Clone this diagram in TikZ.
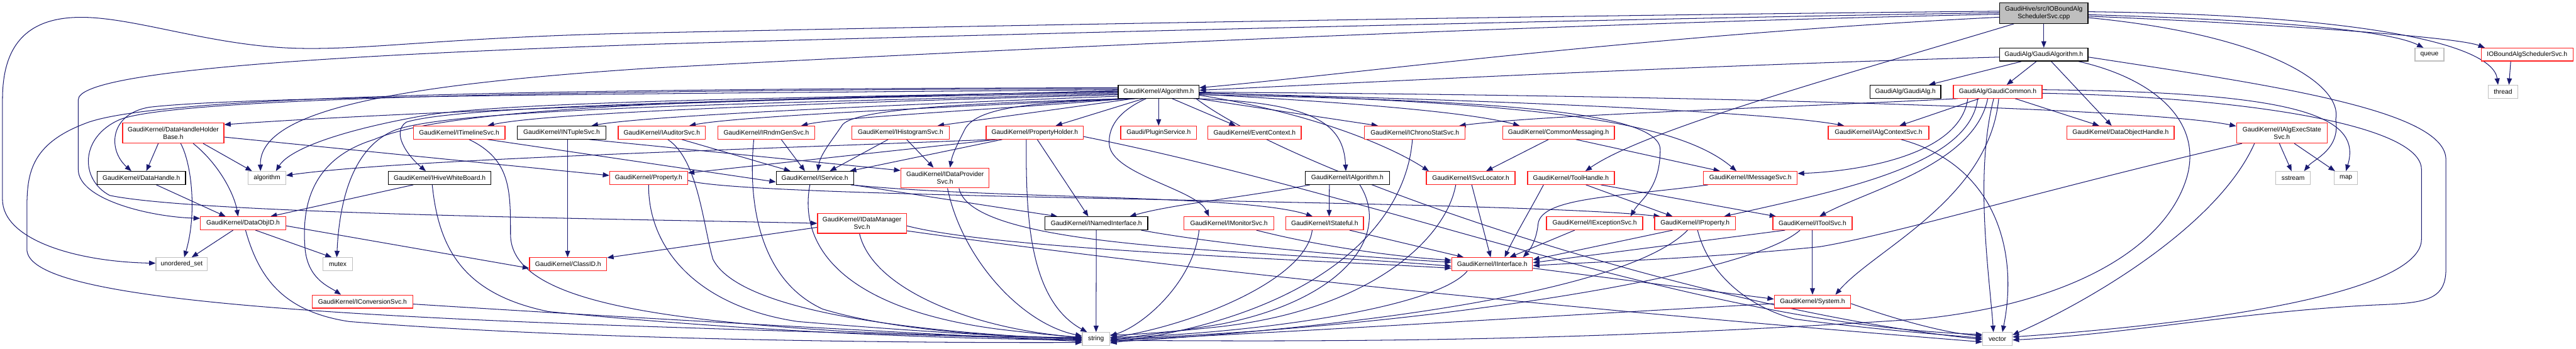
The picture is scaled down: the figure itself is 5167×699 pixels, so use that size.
\documentclass[tikz,border=0pt]{standalone}
\usepackage{fontspec}
\setmainfont{Liberation Sans}
\usetikzlibrary{arrows.meta}
\definecolor{edgec}{HTML}{191970}
\definecolor{redb}{HTML}{FF2020}
\definecolor{grayb}{HTML}{BFBFBF}
\definecolor{rootfill}{HTML}{BFBFBF}
\newcommand\nodefont{\fontsize{13}{15}\selectfont}
\pgfdeclarelayer{bg}
\pgfsetlayers{bg,main}
\begin{document}
\begin{tikzpicture}[x=1pt,y=-1pt,
  box/.style={draw, line width=1.6pt, inner sep=0pt, align=center, font=\nodefont, fill=white, minimum height=26pt},
  nb/.style={box, draw=black},
  nr/.style={box, draw=redb},
  ng/.style={box, draw=grayb},
  dep/.style={draw=edgec, line width=1.3pt, -{Triangle[length=13pt,width=10pt]}},
]
\useasboundingbox (0,0) rectangle (5167,699);
% ---- nodes
\node[box,draw=black,fill=rootfill,minimum width=177pt,minimum height=41pt] (root) at (4099.5,26.5) {GaudiHive/src/IOBoundAlg\\SchedulerSvc.cpp};
\node[nb,minimum width=177pt] (galgo) at (4099.5,109.5) {GaudiAlg/GaudiAlgorithm.h};
\node[ng,minimum width=58pt] (queue) at (4873,109.5) {queue};
\node[nr,minimum width=184pt] (iobsh) at (5069,109.5) {IOBoundAlgSchedulerSvc.h};
\node[nb,minimum width=162pt] (algo) at (2324,184) {GaudiKernel/Algorithm.h};
\node[nb,minimum width=142pt] (galg) at (3822,184) {GaudiAlg/GaudiAlg.h};
\node[nr,minimum width=178pt] (gcom) at (4007,184) {GaudiAlg/GaudiCommon.h};
\node[ng,minimum width=59pt] (thread) at (5020.5,184) {thread};
\node[nr,minimum width=203pt,minimum height=40pt] (dhhb) at (347.5,267) {GaudiKernel/DataHandleHolder\\Base.h};
\node[nr,minimum width=184pt] (itl) at (921,266) {GaudiKernel/ITimelineSvc.h};
\node[nb,minimum width=177pt] (intup) at (1126.5,266) {GaudiKernel/INTupleSvc.h};
\node[nr,minimum width=175pt] (iaud) at (1327.5,266) {GaudiKernel/IAuditorSvc.h};
\node[nr,minimum width=194pt] (irnd) at (1537,266) {GaudiKernel/IRndmGenSvc.h};
\node[nr,minimum width=195pt] (ihist) at (1806.5,266) {GaudiKernel/IHistogramSvc.h};
\node[nr,minimum width=195pt] (ph) at (2075.5,266) {GaudiKernel/PropertyHolder.h};
\node[nr,minimum width=152pt] (plug) at (2324,266) {Gaudi/PluginService.h};
\node[nr,minimum width=187pt] (evc) at (2516.5,266) {GaudiKernel/EventContext.h};
\node[nr,minimum width=202pt] (ichr) at (2838,266) {GaudiKernel/IChronoStatSvc.h};
\node[nr,minimum width=224pt] (cmsg) at (3126,266) {GaudiKernel/CommonMessaging.h};
\node[nr,minimum width=202pt] (iacs) at (3768,266) {GaudiKernel/IAlgContextSvc.h};
\node[nr,minimum width=215pt] (doh) at (4253.5,266) {GaudiKernel/DataObjectHandle.h};
\node[nr,minimum width=182pt,minimum height=40pt] (iaes) at (4577,267) {GaudiKernel/IAlgExecState\\Svc.h};
\node[nb,minimum width=177pt] (dh) at (283.5,357) {GaudiKernel/DataHandle.h};
\node[ng,minimum width=75pt] (algm) at (535.5,357) {algorithm};
\node[nb,minimum width=206pt] (ihwb) at (882,357) {GaudiKernel/IHiveWhiteBoard.h};
\node[nr,minimum width=156pt] (prop) at (1301,357) {GaudiKernel/Property.h};
\node[nb,minimum width=155pt] (isvc) at (1634.5,357) {GaudiKernel/IService.h};
\node[nr,minimum width=177pt,minimum height=40pt] (idps) at (1895.5,357) {GaudiKernel/IDataProvider\\Svc.h};
\node[nb,minimum width=169pt] (ialg) at (2702.5,357) {GaudiKernel/IAlgorithm.h};
\node[nr,minimum width=178pt] (isl) at (2950,357) {GaudiKernel/ISvcLocator.h};
\node[nr,minimum width=174pt] (th) at (3151,357) {GaudiKernel/ToolHandle.h};
\node[nr,minimum width=188pt] (ims) at (3511,357) {GaudiKernel/IMessageSvc.h};
\node[ng,minimum width=69pt] (sst) at (4599.5,357) {sstream};
\node[ng,minimum width=47pt] (map) at (4705.5,357) {map};
\node[nr,minimum width=171pt] (doid) at (487.5,448) {GaudiKernel/DataObjID.h};
\node[nr,minimum width=178pt,minimum height=40pt] (idms) at (1729,448) {GaudiKernel/IDataManager\\Svc.h};
\node[nb,minimum width=206pt] (inif) at (2199,448) {GaudiKernel/INamedInterface.h};
\node[nr,minimum width=180pt] (imon) at (2465,448) {GaudiKernel/IMonitorSvc.h};
\node[nr,minimum width=156pt] (ist) at (2657,448) {GaudiKernel/IStateful.h};
\node[nr,minimum width=193pt] (iexc) at (3198.5,448) {GaudiKernel/IExceptionSvc.h};
\node[nr,minimum width=162pt] (iprop) at (3400,448) {GaudiKernel/IProperty.h};
\node[nr,minimum width=159pt] (itool) at (3635.5,448) {GaudiKernel/IToolSvc.h};
\node[ng,minimum width=103pt] (uset) at (364.5,530) {unordered\_set};
\node[ng,minimum width=59pt] (mutex) at (677.5,530) {mutex};
\node[nr,minimum width=155pt] (clid) at (1139.5,530) {GaudiKernel/ClassID.h};
\node[nr,minimum width=162pt] (iint) at (2993,530) {GaudiKernel/IInterface.h};
\node[nr,minimum width=202pt] (iconv) at (727,605) {GaudiKernel/IConversionSvc.h};
\node[nr,minimum width=153pt] (sys) at (3635.5,605) {GaudiKernel/System.h};
\node[ng,minimum width=55pt] (str) at (2198.5,680) {string};
\node[ng,minimum width=59pt] (vec) at (4006.5,680) {vector};
% ---- edges
\begin{pgfonlayer}{bg}
% root
\draw[dep] (root) -- (galgo);
\draw[dep] ([yshift=-3pt]root.east) .. controls (4550,40) and (4790,60) .. ([xshift=-12pt]queue.north);
\draw[dep] ([yshift=-6pt]root.east) .. controls (4600,50) and (4930,75) .. ([xshift=-85pt]iobsh.north);
\draw[dep] ([yshift=3pt]root.east) .. controls (4750,30) and (5000,90) .. ([xshift=-10pt]thread.north);
\draw[dep] ([yshift=-9pt]root.east) .. controls (4550,70) and (4700,170) .. (4685,240) .. controls (4695,300) and (4640,320) .. ([xshift=22pt]sst.north);
\draw[dep] ([xshift=-60pt]root.south) .. controls (3700,150) and (3300,260) .. ([xshift=29pt]th.north);
\draw[dep] ([yshift=-8pt]root.west) .. controls (3300,70) and (2700,150) .. ([yshift=8pt]algo.east);
\draw[dep] ([yshift=4pt]root.west) .. controls (3000,32) and (1800,55) .. (1300,66) .. controls (900,74) and (750,100) .. (600,97) .. controls (420,93) and (260,30) .. (150,35) .. controls (30,40) and (5,120) .. (5,200) -- (5,400) .. controls (5,480) and (150,525) .. ([yshift=2pt]uset.west);
\draw[dep] ([yshift=1pt]root.west) .. controls (3000,42) and (1600,80) .. (1300,89) .. controls (700,110) and (157,140) .. (157,200) -- (157,340) .. controls (157,400) and (300,435) .. ([yshift=10pt]doid.west);
\draw[dep] ([yshift=-2pt]root.west) .. controls (3000,50) and (1800,110) .. (1300,137) .. controls (800,170) and (520,220) .. ([xshift=-13pt]algm.north);
% GaudiAlgorithm.h
\draw[dep] ([xshift=-15pt]galgo.south) -- ([xshift=18pt]gcom.north);
\draw[dep] ([xshift=15pt]galgo.south) -- ([xshift=-18pt]doh.north);
\draw[dep] ([xshift=-45pt]galgo.south) -- ([xshift=47pt]galg.north);
\draw[dep] ([yshift=-5pt]galgo.west) .. controls (3300,135) and (2650,170) .. ([yshift=3pt]algo.east);
\draw[dep] ([yshift=-5pt]galgo.east) .. controls (4550,170) and (4906,220) .. (4906,320) -- (4906,540) .. controls (4906,605) and (4860,608) .. (4760,612) .. controls (4500,625) and (4250,672) .. ([yshift=-2pt]vec.east);
\draw[dep] ([xshift=70pt]galgo.south) .. controls (4330,160) and (4420,250) .. (4385,360) .. controls (4340,500) and (4150,610) .. (3850,640) .. controls (3100,690) and (2600,684) .. ([yshift=-3pt]str.east);
% GaudiCommon.h
\draw[dep] ([xshift=-37pt]gcom.south) -- ([xshift=42pt]iacs.north);
\draw[dep] ([xshift=35pt]gcom.south) -- ([xshift=-43pt]doh.north);
\draw[dep] ([yshift=-3pt]gcom.east) .. controls (4500,195) and (4857,250) .. (4857,340) -- (4857,480) .. controls (4857,570) and (4550,640) .. ([yshift=4pt]vec.east);
\draw[dep] ([yshift=4pt]gcom.east) .. controls (4600,185) and (4740,230) .. (map.north);
\draw[dep] ([xshift=-80pt]gcom.south) .. controls (3600,215) and (3100,230) .. ([xshift=89pt]ichr.north);
\draw[dep] ([xshift=-60pt]gcom.south) .. controls (3930,320) and (3700,345) .. ([yshift=9pt]ims.east);
\draw[dep] ([xshift=-20pt]gcom.south) .. controls (3960,330) and (3750,380) .. ([xshift=14pt]itool.north);
\draw[dep] ([xshift=-40pt]gcom.south) .. controls (3950,330) and (3700,380) .. ([xshift=58pt]iprop.north);
\draw[dep] ([xshift=2pt]gcom.south) .. controls (3990,400) and (3760,500) .. ([xshift=46pt]sys.north);
\draw[dep] ([xshift=-8pt]gcom.south) .. controls (3960,350) and (3990,550) .. ([xshift=-8pt]vec.north);
% Algorithm.h
\draw[dep] ([yshift=2pt]algo.west) .. controls (1500,200) and (800,225) .. ([yshift=17pt]dhhb.east);
\draw[dep] ([yshift=4pt]algo.west) .. controls (1300,188) and (500,192) .. (300,215) .. controls (220,228) and (215,300) .. ([xshift=-20pt]dh.north);
\draw[dep] (algo.west) .. controls (1600,195) and (1000,205) .. (850,232) .. controls (680,262) and (580,300) .. ([xshift=18pt]algm.north);
\draw[dep] ([yshift=-2pt]algo.west) .. controls (1500,200) and (920,212) .. (815,245) .. controls (785,265) and (815,310) .. ([xshift=-28pt]ihwb.north);
\draw[dep] ([yshift=-6pt]algo.west) .. controls (1700,205) and (1100,225) .. ([xshift=57pt]itl.north);
\draw[dep] ([yshift=-9pt]algo.west) .. controls (1800,210) and (1300,232) .. ([xshift=60pt]intup.north);
\draw[dep] ([xshift=-75pt]algo.south) .. controls (1900,215) and (1480,233) .. ([xshift=55pt]iaud.north);
\draw[dep] ([xshift=-65pt]algo.south) .. controls (2000,220) and (1680,235) .. ([xshift=70pt]irnd.north);
\draw[dep] ([xshift=-50pt]algo.south) -- ([xshift=74pt]ihist.north);
\draw[dep] ([xshift=-30pt]algo.south) -- ([xshift=42pt]ph.north);
\draw[dep] (algo) -- (plug);
\draw[dep] ([xshift=27pt]algo.south) -- ([xshift=-38pt]evc.north);
\draw[dep] ([xshift=78pt]algo.south) -- ([xshift=-74pt]ichr.north);
\draw[dep] ([yshift=-5pt]algo.east) .. controls (2700,205) and (2950,225) .. ([xshift=-78pt]cmsg.north);
\draw[dep] ([yshift=-3pt]algo.east) .. controls (3000,200) and (3550,225) .. ([xshift=-69pt]iacs.north);
\draw[dep] ([yshift=-1pt]algo.east) .. controls (3300,190) and (4300,215) .. ([yshift=14pt]iaes.west);
\draw[dep] ([xshift=70pt]algo.south) .. controls (2640,205) and (2695,250) .. ([xshift=-3pt]ialg.north);
\draw[dep] ([yshift=-7pt]algo.east) .. controls (2650,230) and (2800,300) .. ([xshift=-84pt]isl.north);
\draw[dep] ([yshift=-2pt]algo.east) .. controls (3000,205) and (3350,230) .. ([xshift=-28pt]ims.north);
\draw[dep] ([yshift=-6pt]algo.east) .. controls (2900,200) and (3330,215) .. (3330,300) .. controls (3330,380) and (3290,400) .. ([xshift=72pt]iexc.north);
\draw[dep] ([xshift=-58pt]algo.south) .. controls (2000,205) and (1720,215) .. (1690,250) .. controls (1670,280) and (1645,310) .. ([xshift=6pt]isvc.north);
\draw[dep] ([xshift=-42pt]algo.south) .. controls (2100,205) and (1960,210) .. (1935,260) .. controls (1920,290) and (1910,310) .. ([xshift=10pt]idps.north);
\draw[dep] ([xshift=-25pt]algo.south) .. controls (2250,220) and (2222,250) .. (2225,290) .. controls (2230,350) and (2400,380) .. ([xshift=-40pt]imon.north);
\draw[dep] ([yshift=6pt]algo.west) .. controls (1200,180) and (350,195) .. (240,240) .. controls (160,275) and (160,360) .. (220,392) .. controls (400,430) and (1300,440) .. (idms.west);
\draw[dep] ([yshift=1pt]algo.west) .. controls (1400,200) and (900,215) .. (750,280) .. controls (620,320) and (605,420) .. (612,500) .. controls (618,560) and (660,575) .. ([xshift=-43pt]iconv.north);
\draw[dep] ([yshift=-4pt]algo.west) .. controls (1500,208) and (900,218) .. (790,262) .. controls (700,300) and (680,420) .. ([xshift=-2pt]mutex.north);
\draw[dep] ([yshift=8pt]algo.west) .. controls (1000,178) and (300,195) .. (170,248) .. controls (60,290) and (54,350) .. (54,420) -- (54,500) .. controls (54,580) and (400,625) .. (1300,655) .. controls (1800,672) and (2050,677) .. ([yshift=-3pt]str.west);
\draw[dep] ([xshift=75pt]algo.south) .. controls (2600,350) and (3400,620) .. ([yshift=-1pt]vec.west);
% DataHandleHolderBase.h
\draw[dep] ([xshift=-30pt]dhhb.south) -- ([xshift=10pt]dh.north);
\draw[dep] ([xshift=15pt]dhhb.south) .. controls (385,330) and (395,430) .. ([xshift=5pt]uset.north);
\draw[dep] ([xshift=40pt]dhhb.south) .. controls (440,330) and (470,390) .. ([xshift=-10pt]doid.north);
\draw[dep] ([xshift=60pt]dhhb.south) -- ([xshift=-30pt]algm.north);
\draw[dep] ([yshift=-8pt]dhhb.east) -- ([yshift=5pt]prop.west);
\draw[dep] ([xshift=30pt]dh.south) -- ([xshift=-35pt]doid.north);
% IHiveWhiteBoard.h
\draw[dep] ([xshift=-53pt]ihwb.south) -- ([xshift=55pt]doid.north);
\draw[dep] ([xshift=-15pt]ihwb.south) .. controls (880,500) and (930,590) .. (1100,625) .. controls (1500,665) and (1900,680) .. ([yshift=-2pt]str.west);
% ITimelineSvc.h / INTupleSvc.h / IAuditorSvc.h / IRndmGenSvc.h / IHistogramSvc.h
\draw[dep] ([xshift=20pt]itl.south) .. controls (1024,320) and (1024,380) .. (1024,470) .. controls (1024,600) and (1300,640) .. (1700,665) .. controls (1950,675) and (2100,678) .. ([yshift=4pt]str.west);
\draw[dep] ([xshift=57pt]itl.south) -- ([yshift=-8pt]isvc.west);
\draw[dep] ([xshift=12pt]intup.south) -- ([xshift=-1pt]clid.north);
\draw[dep] ([xshift=55pt]intup.south) -- ([yshift=15pt]idps.west);
\draw[dep] ([xshift=40pt]iaud.south) -- ([xshift=-49pt]isvc.north);
\draw[dep] ([xshift=12pt]iaud.south) .. controls (1400,320) and (1410,450) .. (1430,520) .. controls (1480,620) and (1800,665) .. ([yshift=-1pt]str.west);
\draw[dep] ([xshift=30pt]irnd.south) -- ([xshift=-20pt]isvc.north);
\draw[dep] ([xshift=-25pt]irnd.south) .. controls (1500,400) and (1520,560) .. (1650,620) .. controls (1800,665) and (2000,674) .. (str.west);
\draw[dep] ([xshift=-25pt]ihist.south) -- ([xshift=30pt]isvc.north);
\draw[dep] ([xshift=12pt]ihist.south) -- ([xshift=-23pt]idps.north);
% PropertyHolder.h
\draw[dep] ([xshift=-75pt]ph.south) -- ([yshift=10pt]prop.east);
\draw[dep] ([xshift=-65pt]ph.south) -- ([xshift=70pt]isvc.north);
\draw[dep] ([xshift=-85pt]ph.south) .. controls (1500,300) and (800,320) .. ([yshift=5pt]algm.east);
\draw[dep] ([xshift=5pt]ph.south) -- ([xshift=-16pt]inif.north);
\draw[dep] ([xshift=-17pt]ph.south) .. controls (2058,420) and (2060,600) .. ([xshift=-18pt]str.north);
\draw[dep] ([yshift=-8pt]ph.east) .. controls (2800,400) and (3400,650) .. ([yshift=9pt]vec.west);
% Property.h
\draw[dep] (prop.south) .. controls (1300,500) and (1400,615) .. (1600,645) .. controls (1900,670) and (2050,676) .. ([yshift=2pt]str.west);
\draw[dep] ([yshift=-5pt]prop.east) .. controls (1500,400) and (3000,400) .. ([xshift=-70pt]iprop.north);
% IService.h / IDataProviderSvc.h / IDataManagerSvc.h
\draw[dep] ([xshift=75pt]isvc.south) -- ([xshift=-78pt]inif.north);
\draw[dep] ([xshift=72pt]isvc.south) .. controls (2000,400) and (2500,390) .. ([xshift=-24pt]ist.north);
\draw[dep] ([xshift=-10pt]isvc.south) .. controls (1600,500) and (1700,620) .. (2000,660) .. controls (2100,672) and (2150,675) .. ([yshift=1pt]str.west);
\draw[dep] ([xshift=5pt]idps.south) .. controls (1930,520) and (2050,650) .. ([yshift=6pt]str.west);
\draw[dep] ([xshift=28pt]idps.south) .. controls (1950,500) and (2500,500) .. ([yshift=-4pt]iint.west);
\draw[dep] ([yshift=-8pt]idms.west) -- ([yshift=13pt]clid.east);
\draw[dep] ([xshift=-5pt]idms.south) .. controls (1750,580) and (1950,660) .. ([yshift=3pt]str.west);
\draw[dep] ([yshift=-5pt]idms.east) .. controls (2000,500) and (2600,520) .. ([yshift=-8pt]iint.west);
\draw[dep] ([yshift=-15pt]idms.east) .. controls (2500,560) and (3400,640) .. ([yshift=-6pt]vec.west);
% IConversionSvc.h / DataObjID.h
\draw[dep] ([yshift=-5pt]iconv.east) .. controls (1300,640) and (1900,672) .. ([yshift=-5pt]str.west);
\draw[dep] ([xshift=-20pt]doid.south) -- ([xshift=20pt]uset.north);
\draw[dep] ([xshift=25pt]doid.south) -- ([xshift=-12pt]mutex.north);
\draw[dep] ([yshift=-5pt]doid.east) -- ([yshift=-8pt]clid.west);
\draw[dep] ([xshift=5pt]doid.south) .. controls (520,560) and (570,625) .. (700,645) .. controls (1200,685) and (1900,688) .. ([yshift=-7pt]str.west);
% INamedInterface.h / IMonitorSvc.h / IStateful.h / IAlgorithm.h
\draw[dep] (inif) -- (str);
\draw[dep] ([xshift=90pt]inif.south) .. controls (2500,500) and (2800,520) .. ([yshift=4pt]iint.west);
\draw[dep] ([xshift=55pt]imon.south) .. controls (2650,495) and (2800,515) .. ([yshift=8pt]iint.west);
\draw[dep] ([xshift=-60pt]imon.south) .. controls (2395,560) and (2300,650) .. ([yshift=6pt]str.east);
\draw[dep] ([xshift=50pt]ist.south) -- ([xshift=-57pt]iint.north);
\draw[dep] ([xshift=-25pt]ist.south) .. controls (2620,560) and (2400,650) .. ([yshift=2pt]str.east);
\draw[dep] ([xshift=-36pt]ialg.south) -- ([xshift=9pt]ist.north);
\draw[dep] ([xshift=-75pt]ialg.south) .. controls (2500,395) and (2350,410) .. ([xshift=67pt]inif.north);
\draw[dep] ([xshift=25pt]ialg.south) .. controls (2790,470) and (2700,600) .. (2450,650) .. controls (2330,670) and (2260,676) .. ([yshift=-4pt]str.east);
% ISvcLocator.h / ToolHandle.h / IMessageSvc.h / CommonMessaging.h / IChronoStatSvc.h
\draw[dep] ([xshift=2pt]isl.south) -- ([xshift=-3pt]iint.north);
\draw[dep] ([xshift=-30pt]isl.south) .. controls (2900,480) and (2750,620) .. (2450,655) .. controls (2330,668) and (2260,672) .. ([yshift=8pt]str.east);
\draw[dep] ([xshift=60pt]th.south) -- ([xshift=-73pt]itool.north);
\draw[dep] ([xshift=30pt]th.south) -- ([xshift=-45pt]iprop.north);
\draw[dep] ([xshift=-55pt]th.south) .. controls (3070,420) and (3040,470) .. ([xshift=25pt]iint.north);
\draw[dep] ([xshift=-85pt]ims.south) .. controls (3250,395) and (3090,395) .. (3085,450) .. controls (3082,480) and (3070,500) .. ([xshift=62pt]iint.north);
\draw[dep] ([xshift=-20pt]cmsg.south) -- ([xshift=31pt]isl.north);
\draw[dep] ([xshift=35pt]cmsg.south) -- ([xshift=-61pt]ims.north);
\draw[dep] ([xshift=-5pt]ichr.south) .. controls (2820,450) and (2650,630) .. ([yshift=-8pt]str.east);
% IExceptionSvc.h / IProperty.h / IToolSvc.h / IInterface.h / System.h
\draw[dep] ([xshift=-40pt]iexc.south) -- ([xshift=35pt]iint.north);
\draw[dep] ([xshift=-45pt]iprop.south) -- ([yshift=9pt]iint.east);
\draw[dep] ([xshift=5pt]iprop.south) .. controls (3430,560) and (3520,620) .. (3600,640) .. controls (3750,660) and (3900,672) .. ([yshift=2pt]vec.west);
\draw[dep] ([xshift=-15pt]iprop.south) .. controls (3250,600) and (2600,665) .. ([yshift=-6pt]str.east);
\draw[dep] (itool) -- (sys);
\draw[dep] ([xshift=-55pt]itool.south) -- ([yshift=3pt]iint.east);
\draw[dep] ([xshift=-25pt]itool.south) .. controls (3500,560) and (2800,660) .. (str.east);
\draw[dep] ([yshift=-8pt]iint.east) -- ([yshift=5pt]sys.west);
\draw[dep] ([xshift=-50pt]iint.south) .. controls (2880,620) and (2500,670) .. ([yshift=3pt]str.east);
\draw[dep] ([yshift=-4pt]sys.west) .. controls (3000,640) and (2500,672) .. ([yshift=-2pt]str.east);
\draw[dep] ([yshift=-4pt]sys.east) .. controls (3800,640) and (3900,668) .. ([yshift=6pt]vec.west);
% IAlgContextSvc.h / IAlgExecStateSvc.h / IOBoundAlgSchedulerSvc.h
\draw[dep] ([xshift=45pt]iacs.south) .. controls (4000,330) and (4050,500) .. ([xshift=10pt]vec.north);
\draw[dep] ([xshift=-5pt]iaes.south) -- ([xshift=-3pt]sst.north);
\draw[dep] ([xshift=25pt]iaes.south) -- ([xshift=-22pt]map.north);
\draw[dep] ([xshift=-55pt]iaes.south) .. controls (4450,450) and (4200,600) .. ([yshift=8pt]vec.east);
\draw[dep] ([xshift=-80pt]iaes.south) .. controls (4100,380) and (3800,470) .. (3650,495) .. controls (3400,520) and (3200,525) .. ([yshift=-3pt]iint.east);
\draw[dep] ([xshift=-33pt]iobsh.south) -- ([xshift=12pt]thread.north);
\end{pgfonlayer}
\end{tikzpicture}
\end{document}
